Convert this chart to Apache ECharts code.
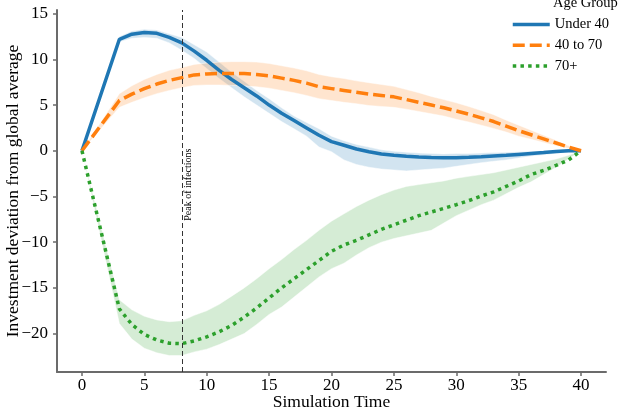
<!DOCTYPE html>
<html>
<head>
<meta charset="utf-8">
<script src="https://cdn.jsdelivr.net/npm/echarts@6/dist/echarts.min.js"></script>
<style>
html,body{margin:0;padding:0;background:#fff;}
#c{width:618px;height:412px;}
</style>
</head>
<body>
<div id="c"></div>
<script>
var times = [0,3,4,5,6,7,8,9,10,11,12,13,14,15,16,17,18,19,20,21,22,23,24,25,26,27,28,29,30,31,32,33,34,35,36,37,38,39,40];

var under40 = [0,12.2,12.75,12.95,12.85,12.4,11.8,10.9,9.9,8.8,7.8,6.9,6.0,5.0,4.1,3.3,2.5,1.7,1.0,0.6,0.2,-0.1,-0.35,-0.5,-0.6,-0.68,-0.73,-0.75,-0.75,-0.72,-0.66,-0.58,-0.5,-0.4,-0.3,-0.2,-0.07,0.0,0];
var under40Lo = [0,11.9,12.3,12.4,12.3,11.8,11.0,10.1,9.0,7.9,6.9,5.9,5.0,4.1,3.2,2.4,1.6,0.4,-0.1,-1.0,-1.5,-1.8,-2.0,-2.1,-2.2,-2.1,-2.0,-1.9,-1.7,-1.5,-1.3,-1.15,-1.0,-0.8,-0.6,-0.45,-0.3,-0.15,0];
var under40Hi = [0,12.5,13.1,13.3,13.2,12.8,12.4,11.6,10.8,9.7,8.6,7.6,6.6,5.7,4.7,3.8,3.1,2.4,1.6,1.1,0.7,0.4,0.1,-0.05,-0.15,-0.25,-0.3,-0.35,-0.3,-0.3,-0.25,-0.2,-0.15,-0.1,-0.05,0.0,0.05,0.05,0];

var mid40to70 = [0,5.5,6.2,6.8,7.3,7.7,8.0,8.3,8.4,8.45,8.45,8.45,8.35,8.2,7.95,7.7,7.4,7.0,6.8,6.6,6.4,6.2,6.05,5.9,5.6,5.3,5.0,4.7,4.35,4.0,3.6,3.2,2.7,2.2,1.75,1.3,0.85,0.4,0];
var mid40to70Lo = [0,4.75,5.3,5.8,6.25,6.6,6.9,7.15,7.2,7.2,7.15,7.1,7.0,6.85,6.6,6.35,6.05,5.7,5.5,5.3,5.15,4.95,4.85,4.75,4.55,4.3,4.05,3.8,3.45,3.15,2.8,2.45,2.05,1.6,1.25,0.9,0.55,0.25,0];
var mid40to70Hi = [0,6.25,7.1,7.8,8.35,8.8,9.1,9.45,9.6,9.7,9.75,9.75,9.7,9.55,9.3,9.05,8.75,8.35,8.1,7.9,7.65,7.45,7.25,7.05,6.7,6.35,5.95,5.6,5.25,4.85,4.4,3.95,3.35,2.8,2.25,1.7,1.15,0.55,0];

var over70 = [0,-17.3,-19.0,-20.1,-20.7,-21.05,-21.1,-20.8,-20.35,-19.8,-19.1,-18.2,-17.2,-16.1,-15.0,-14.0,-13.0,-12.0,-11.0,-10.3,-9.8,-9.2,-8.6,-8.1,-7.6,-7.1,-6.7,-6.3,-5.9,-5.45,-4.95,-4.5,-3.9,-3.3,-2.6,-2.15,-1.6,-1.0,0];
var over70Lo = [0,-18.9,-20.6,-21.6,-22.1,-22.4,-22.4,-22.0,-21.7,-21.2,-20.6,-20.0,-19.0,-17.9,-17.1,-16.0,-14.9,-13.8,-12.9,-12.3,-11.4,-10.6,-10.0,-9.6,-9.3,-9.0,-8.7,-7.9,-7.1,-6.5,-5.9,-5.4,-4.7,-4.0,-3.4,-2.6,-1.8,-0.9,0];
var over70Hi = [0,-16.3,-17.4,-18.1,-18.5,-18.7,-18.6,-18.0,-17.5,-16.8,-15.9,-15.0,-14.0,-12.9,-11.9,-10.8,-9.8,-8.7,-7.7,-6.9,-6.1,-5.4,-4.8,-4.3,-3.9,-3.7,-3.5,-3.3,-3.0,-2.8,-2.6,-2.4,-2.1,-1.8,-1.5,-1.2,-0.9,-0.5,0];

var xTicks = [0,5,10,15,20,25,30,35,40];
var yTicks = [-20,-15,-10,-5,0,5,10,15];
var peakTime = 8;
var seriesNames = ['Under 40','40 to 70','70+'];
var legendTitle = 'Age Group';
var peakLabel = 'Peak of infections';
var xName = 'Simulation Time';
var yName = 'Investment deviation from global average';

var SERIF = "'Liberation Serif','DejaVu Serif',serif";
var COLORS = ['#1f77b4','#ff7f0e','#2ca02c'];
var BANDS = ['rgba(31,119,180,0.2)','rgba(255,127,14,0.2)','rgba(44,160,44,0.2)'];

function pairs(vals){ return times.map(function(t,i){ return [t, vals[i]]; }); }
function bandSeries(lo, hi, fill){
  return {
    type:'custom', silent:true, clip:true, z:1,
    data: times.map(function(t,i){ return [t, lo[i], hi[i]]; }),
    encode:{x:0, y:[1,2]},
    renderItem: function(params, api){
      if (params.dataIndex !== 0) return null;
      var pts = [];
      for (var i=0;i<times.length;i++) pts.push(api.coord([times[i], hi[i]]));
      for (var j=times.length-1;j>=0;j--) pts.push(api.coord([times[j], lo[j]]));
      return {type:'polygon', shape:{points:pts}, style:{fill:fill, stroke:'rgba(255,255,255,0.6)', lineWidth:0.8}};
    }
  };
}

var chart = echarts.init(document.getElementById('c'), null, {renderer:'canvas'});
var axisGray = '#6b6b6b';
chart.setOption({
  animation:false,
  backgroundColor:'#fff',
  grid:{left:57, right:12, top:10, bottom:40, containLabel:false, outerBoundsMode:'none'},
  xAxis:{
    type:'value', min:-2, max:42,
    name:xName, nameLocation:'middle', nameGap:21, nameMoveOverlap:false,
    nameTextStyle:{fontFamily:SERIF, fontSize:17.5, color:'#000'},
    axisLine:{show:true, onZero:false, lineStyle:{color:axisGray, width:2}},
    axisTick:{show:true, length:4, lineStyle:{color:axisGray, width:1.5}, customValues:xTicks},
    axisLabel:{fontFamily:SERIF, fontSize:17, color:'#000', margin:5, customValues:xTicks},
    splitLine:{show:false}
  },
  yAxis:{
    type:'value', min:-24.2, max:15.4,
    name:yName, nameLocation:'middle', nameGap:35, nameRotate:90, nameMoveOverlap:false,
    nameTextStyle:{fontFamily:SERIF, fontSize:17.5, color:'#000'},
    axisLine:{show:true, onZero:false, lineStyle:{color:axisGray, width:2}},
    axisTick:{show:true, length:4, lineStyle:{color:axisGray, width:1.5}, customValues:yTicks},
    axisLabel:{fontFamily:SERIF, fontSize:17, color:'#000', margin:9, customValues:yTicks,
      formatter:function(v){ return v < 0 ? '\u2212' + Math.abs(v) : String(v); }},
    splitLine:{show:false}
  },
  legend:{
    orient:'vertical', left:511, top:17, padding:0, itemGap:5.7,
    itemWidth:37, itemHeight:14,
    itemStyle:{opacity:0},
    lineStyle:{width:3.5},
    data:seriesNames,
    textStyle:{fontFamily:SERIF, fontSize:14.5, color:'#000'}
  },
  series:[
    bandSeries(under40Lo, under40Hi, BANDS[0]),
    bandSeries(mid40to70Lo, mid40to70Hi, BANDS[1]),
    bandSeries(over70Lo, over70Hi, BANDS[2]),
    {name:seriesNames[0], type:'line', data:pairs(under40), symbol:'none', z:3,
     lineStyle:{color:COLORS[0], width:3.5}, itemStyle:{color:COLORS[0]},
     markLine:{silent:true, symbol:'none', label:{show:false},
       lineStyle:{color:'#333', width:1, type:[5,3]},
       data:[{xAxis:peakTime}]}},
    {name:seriesNames[1], type:'line', data:pairs(mid40to70), symbol:'none', z:4,
     lineStyle:{color:COLORS[1], width:3.5, type:[12,5]}, itemStyle:{color:COLORS[1]}},
    {name:seriesNames[2], type:'line', data:pairs(over70), symbol:'none', z:5,
     lineStyle:{color:COLORS[2], width:3.5, type:[3.5,4.2]}, itemStyle:{color:COLORS[2]}}
  ]
});

var p = chart.convertToPixel({xAxisIndex:0, yAxisIndex:0}, [peakTime, -3.7]);
chart.setOption({
  graphic:[
    {type:'text', left:553, top:-4, z:10,
     style:{text:legendTitle, font:'14.5px ' + SERIF, fill:'#000'}},
    {type:'text', x:p[0] + 6.5, y:p[1], rotation:Math.PI/2, z:10,
     style:{text:peakLabel, font:'10px ' + SERIF, fill:'#000', align:'center', verticalAlign:'middle'}}
  ]
});
</script>
</body>
</html>
